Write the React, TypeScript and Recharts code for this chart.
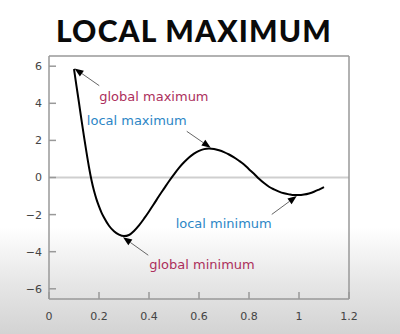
/* eslint-disable */
import { LineChart, Line, XAxis, YAxis, ReferenceLine } from 'recharts';

// curve samples
const xs = [0.1, 0.11, 0.12, 0.13, 0.14, 0.15, 0.16, 0.17, 0.18, 0.19, 0.2, 0.21, 0.22, 0.24, 0.26, 0.28, 0.3, 0.32, 0.34, 0.36, 0.38, 0.4, 0.42, 0.44, 0.46, 0.48, 0.5, 0.52, 0.54, 0.56, 0.58, 0.6, 0.62, 0.64, 0.66, 0.68, 0.7, 0.72, 0.74, 0.76, 0.78, 0.8, 0.82, 0.84, 0.86, 0.88, 0.9, 0.92, 0.94, 0.96, 0.98, 1.0, 1.02, 1.04, 1.06, 1.08, 1.1];
const ys = [5.85, 4.93, 4.02, 3.1, 2.2, 1.35, 0.55, -0.15, -0.72, -1.18, -1.56, -1.89, -2.16, -2.6, -2.9, -3.08, -3.16, -3.1, -2.88, -2.58, -2.22, -1.83, -1.42, -1.0, -0.6, -0.2, 0.17, 0.52, 0.82, 1.08, 1.29, 1.44, 1.53, 1.56, 1.54, 1.47, 1.37, 1.24, 1.08, 0.9, 0.7, 0.45, 0.2, -0.07, -0.3, -0.5, -0.64, -0.76, -0.85, -0.91, -0.95, -0.95, -0.92, -0.86, -0.77, -0.65, -0.52];

const xTicks = [0, 0.2, 0.4, 0.6, 0.8, 1, 1.2];
const yTicks = [-6, -4, -2, 0, 2, 4, 6];

// annotations: label, text start point, arrow tip
const noteLabels = ['global maximum', 'local maximum', 'local minimum', 'global minimum'];
const noteFrom = [[0.201, 4.95], [0.551, 2.49], [0.891, -1.99], [0.397, -4.19]];
const noteTo = [[0.102, 5.88], [0.647, 1.6], [0.991, -1.0], [0.296, -3.22]];

const data = xs.map((x, i) => ({ x, y: ys[i] }));

const RED = '#ac2f5c';
const BLUE = '#2c86c6';
const noteColors = [RED, BLUE, BLUE, RED];
const noteAnchor = ['start', 'end', 'end', 'start'];
const noteDx = [0, 0, 0, 1];
const noteDy = [11, -11, 9, 9];

const fmtY = (v: number) => (v < 0 ? '\u2212' + Math.abs(v) : String(v));

const arrow = (i: number) => (p: any) => {
  const { x1, y1, x2, y2 } = p;
  const dx = x2 - x1, dy = y2 - y1;
  const len = Math.sqrt(dx * dx + dy * dy) || 1;
  const ux = dx / len, uy = dy / len;
  const hl = 9, hw = 3.5;
  const bx = x2 - ux * hl, by = y2 - uy * hl;
  const pts = `${x2},${y2} ${bx - uy * hw},${by + ux * hw} ${bx + uy * hw},${by - ux * hw}`;
  return (
    <g>
      <line x1={x1} y1={y1} x2={bx} y2={by} stroke="#666" strokeWidth={1} />
      <polygon points={pts} fill="#000" />
      <text
        x={x1 + noteDx[i]}
        y={y1 + noteDy[i]}
        textAnchor={noteAnchor[i]}
        dominantBaseline="central"
        fill={noteColors[i]}
        fontSize={13}
        fontFamily="DejaVu Sans"
      >
        {noteLabels[i]}
      </text>
    </g>
  );
};

const tickStyle = { fill: '#444', fontSize: 11, fontFamily: 'DejaVu Sans' };

export default function App() {
  return (
    <div
      style={{
        position: 'absolute',
        left: 0,
        top: 0,
        width: 400,
        height: 334,
        background: 'linear-gradient(to bottom, #fff 0%, #fff 68%, #e6e6e6 85%, #d3d3d3 100%)',
        overflow: 'hidden',
      }}
    >
      <div
        style={{
          position: 'absolute',
          left: 0,
          top: 12,
          width: 388,
          textAlign: 'center',
          fontFamily: 'Lato',
          fontWeight: 900,
          fontSize: 30,
          lineHeight: '36px',
          color: '#0a0a0a',
          letterSpacing: 1.2,
        }}
      >
        LOCAL MAXIMUM
      </div>
      <LineChart width={400} height={334} data={data} margin={{ top: 55, right: 50, bottom: 0, left: 0 }}>
        <XAxis
          dataKey="x"
          type="number"
          domain={[0, 1.2]}
          ticks={xTicks}
          height={35}
          tickSize={-7}
          tickMargin={20}
          tick={tickStyle}
          axisLine={{ stroke: '#999', strokeWidth: 1.5 }}
          tickLine={{ stroke: '#999', strokeWidth: 1.5 }}
        />
        <XAxis
          xAxisId="top"
          orientation="top"
          type="number"
          domain={[0, 1.2]}
          ticks={xTicks}
          height={1}
          tickSize={-7}
          tick={false}
          axisLine={{ stroke: '#999', strokeWidth: 1.5 }}
          tickLine={{ stroke: '#999', strokeWidth: 1.5 }}
        />
        <YAxis
          type="number"
          domain={[-6.55, 6.55]}
          ticks={yTicks}
          width={49}
          tickSize={-7}
          tickMargin={14}
          tickFormatter={fmtY}
          tick={tickStyle}
          axisLine={{ stroke: '#999', strokeWidth: 1.5 }}
          tickLine={{ stroke: '#999', strokeWidth: 1.5 }}
        />
        <YAxis
          yAxisId="right"
          orientation="right"
          type="number"
          domain={[-6.55, 6.55]}
          ticks={yTicks}
          width={1}
          tickSize={-7}
          tick={false}
          axisLine={{ stroke: '#999', strokeWidth: 1.5 }}
          tickLine={{ stroke: '#999', strokeWidth: 1.5 }}
        />
        <ReferenceLine y={0} stroke="#cfcfcf" strokeWidth={2} />
        <Line
          type="monotone"
          dataKey="y"
          stroke="#000"
          strokeWidth={2}
          dot={false}
          isAnimationActive={false}
        />
        {noteLabels.map((lab, i) => (
          <ReferenceLine
            key={lab}
            segment={[
              { x: noteFrom[i][0], y: noteFrom[i][1] },
              { x: noteTo[i][0], y: noteTo[i][1] },
            ]}
            ifOverflow="visible"
            shape={arrow(i)}
          />
        ))}
      </LineChart>
    </div>
  );
}
